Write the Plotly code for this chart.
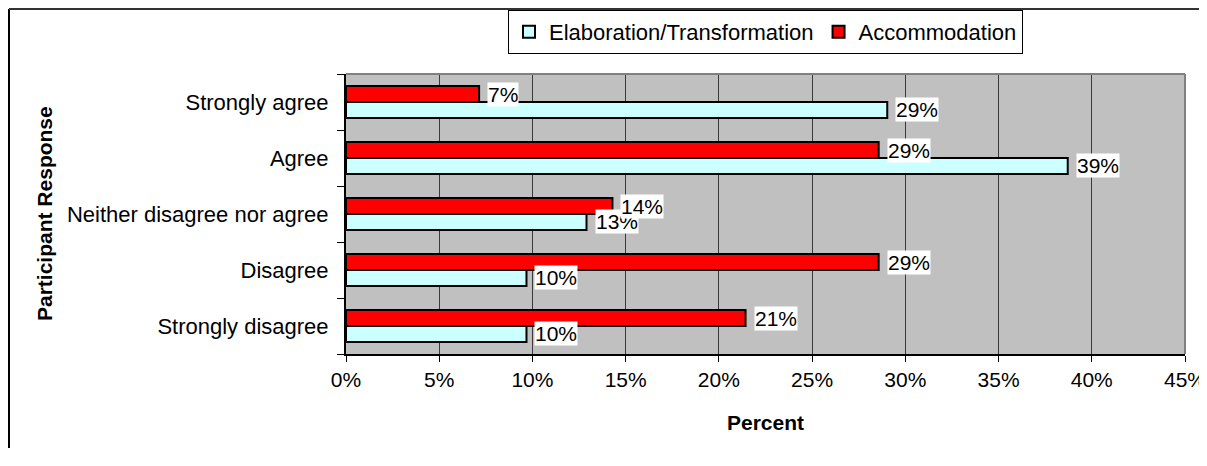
import plotly.graph_objects as go

# ---- data (top-to-bottom as shown) ----
categories = ["Strongly agree", "Agree", "Neither disagree nor agree", "Disagree", "Strongly disagree"]
elaboration = [29.03, 38.71, 12.90, 9.68, 9.68]
accommodation = [7.14, 28.57, 14.29, 28.57, 21.43]
series_names = ["Elaboration/Transformation", "Accommodation"]
x_ticks = [0, 5, 10, 15, 20, 25, 30, 35, 40, 45]

FONT = "Liberation Sans, Arial, sans-serif"
OFF = 8  # page body margin offset
W, H = 1207 - OFF, 440
ML, MT = 346 - OFF, 74 - OFF
MR = W - ML - (1185 - 346)
MB = H - MT - (354 - 74)
PW, PH = W - ML - MR, H - MT - MB


def xp(px):  # page pixel -> paper
    return (px - OFF - ML) / PW


def yp(py):
    return (MT + PH - (py - OFF)) / PH


fig = go.Figure()
fig.add_trace(go.Bar(
    y=categories, x=elaboration, orientation="h", name=series_names[0],
    marker=dict(color="#CCFFFF", line=dict(color="black", width=2)),
    hoverinfo="skip",
))
fig.add_trace(go.Bar(
    y=categories, x=accommodation, orientation="h", name=series_names[1],
    marker=dict(color="#FF0000", line=dict(color="black", width=2)),
    hoverinfo="skip",
))

annotations = []
bar_px = PH / len(categories) * (1 - 0.43) / 2
for vals, shift in ((elaboration, -bar_px / 2), (accommodation, bar_px / 2)):
    for c, v in zip(categories, vals):
        annotations.append(dict(
            x=v, y=c, xref="x", yref="y", text=f"{v:.0f}%", showarrow=False,
            xanchor="left", yanchor="middle", xshift=8, yshift=shift,
            bgcolor="white", borderpad=0,
            font=dict(family=FONT, size=21, color="black"),
        ))

annotations.append(dict(
    x=xp(44), y=0.5, xref="paper", yref="paper", text="<b>Participant Response</b>",
    textangle=-90, showarrow=False, xanchor="center", yanchor="middle",
    font=dict(family=FONT, size=21, color="black"),
))
annotations.append(dict(
    x=0.5, y=yp(422), xref="paper", yref="paper", text="<b>Percent</b>",
    showarrow=False, xanchor="center", yanchor="middle",
    font=dict(family=FONT, size=21, color="black"),
))

shapes = [
    # plot area top/right border (gray)
    dict(type="line", xref="paper", yref="paper", x0=0, x1=1, y0=1, y1=1,
         line=dict(color="#808080", width=2)),
    dict(type="line", xref="paper", yref="paper", x0=1, x1=1, y0=0, y1=1,
         line=dict(color="#808080", width=2)),
    # outer chart border (left/top visible)
    dict(type="line", xref="paper", yref="paper", x0=xp(9), x1=xp(9), y0=yp(9), y1=yp(OFF + H),
         line=dict(color="black", width=2)),
    dict(type="line", xref="paper", yref="paper", x0=xp(9), x1=xp(OFF + W), y0=yp(9), y1=yp(9),
         line=dict(color="#333333", width=2)),
]

fig.update_layout(
    width=W, height=H,
    margin=dict(l=ML, r=MR, t=MT, b=MB, autoexpand=False),
    paper_bgcolor="white", plot_bgcolor="#C0C0C0",
    barmode="group", bargap=0.43, bargroupgap=0,
    font=dict(family=FONT, size=21, color="black"),
    showlegend=True,
    legend=dict(
        orientation="h", x=0.5, xanchor="center", y=yp(32), yanchor="middle",
        bgcolor="white", bordercolor="black", borderwidth=1,
        font=dict(family=FONT, size=22, color="black"),
        itemwidth=30, traceorder="normal",
    ),
    annotations=annotations,
    shapes=shapes,
    xaxis=dict(
        range=[0, 45], tickvals=x_ticks, ticktext=[f"{t}%" for t in x_ticks],
        showgrid=True, gridcolor="#3a3a3a", gridwidth=1,
        showline=True, linecolor="black", linewidth=2,
        ticks="outside", ticklen=6, tickcolor="black", tickwidth=1,
        zeroline=False, fixedrange=True,
        tickfont=dict(family=FONT, size=21, color="black"),
    ),
    yaxis=dict(
        categoryorder="array", categoryarray=categories[::-1],
        showgrid=False, showline=True, linecolor="black", linewidth=2,
        ticks="outside", tickson="boundaries", ticklen=7, tickcolor="black", tickwidth=1,
        ticklabelstandoff=11, fixedrange=True,
        tickfont=dict(family=FONT, size=22, color="black"),
    ),
)

fig.write_html("out.html")
